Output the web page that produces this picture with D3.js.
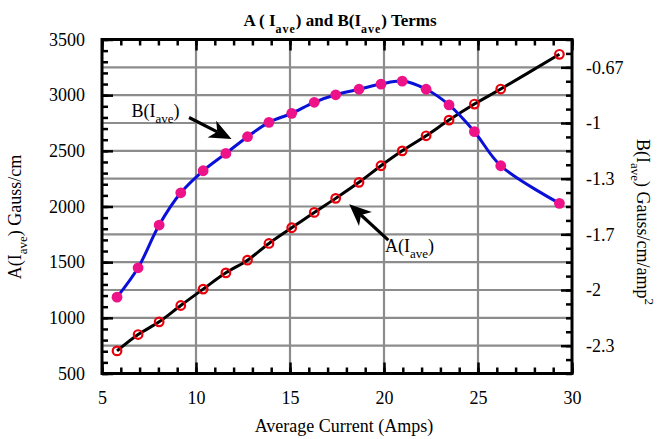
<!DOCTYPE html>
<html lang="en">
<head>
<meta charset="UTF-8">
<title>A and B Terms</title>
<script src="https://cdn.jsdelivr.net/npm/d3@7"></script>
<style>
    body { margin: 0; background: #fff; }
    text { font-family: "Liberation Serif", "Times New Roman", serif; fill: #000; }
</style>
</head>
<body>
<script type="text/javascript">
    // data
    var current = [5.80, 6.92, 8.04, 9.19, 10.38, 11.59, 12.74, 13.88, 15.09, 16.29,
                   17.43, 18.67, 19.84, 20.97, 22.24, 23.46, 24.81, 26.21, 29.33];
    var aTerm = [703, 850, 964, 1111, 1258, 1404, 1518, 1668, 1809, 1947,
                 2073, 2217, 2366, 2500, 2635, 2776, 2920, 3055, 3367];
    var bTerm = [-2.043, -1.867, -1.611, -1.418, -1.286, -1.182, -1.082, -0.996, -0.942, -0.876,
                 -0.831, -0.798, -0.767, -0.749, -0.798, -0.892, -1.052, -1.256, -1.481];

    var xTicks = [5, 10, 15, 20, 25, 30];
    var leftTicks = [500, 1000, 1500, 2000, 2500, 3000, 3500];
    var rightTicks = [-7 / 3, -2, -5 / 3, -4 / 3, -1, -2 / 3];
    var rightLabels = ['-2.3', '-2', '-1.7', '-1.3', '-1', '-0.67'];
    var xGrid = [10, 15, 20, 25];
    var yGrid = [750, 1000, 1250, 1500, 1750, 2000, 2250, 2500, 2750, 3000, 3250];

    var width = 670;
    var height = 439;
    // window.top is read-only, so plot edges get their own names
    var pLeft = 102, pRight = 572, pTop = 39.5, pBottom = 373.5;
    var font = '"Liberation Serif", "Times New Roman", serif';

    var svg = d3.select('body').append('svg')
            .attr('width', width)
            .attr('height', height);

    var x = d3.scaleLinear().domain([5, 30]).range([pLeft, pRight]);
    var yL = d3.scaleLinear().domain([500, 3500]).range([pBottom, pTop]);
    var yR = d3.scaleLinear().domain([-2.5, -0.5]).range([pBottom, pTop]);

    // grid
    svg.selectAll('.vgrid').data(xGrid).enter().append('line')
            .attr('x1', function (d) { return x(d); })
            .attr('x2', function (d) { return x(d); })
            .attr('y1', pTop).attr('y2', pBottom)
            .attr('stroke', '#8c8c8c').attr('stroke-width', 2.2);
    svg.selectAll('.hgrid').data(yGrid).enter().append('line')
            .attr('y1', function (d) { return yL(d); })
            .attr('y2', function (d) { return yL(d); })
            .attr('x1', pLeft).attr('x2', pRight)
            .attr('stroke', '#8c8c8c').attr('stroke-width', 2.2);

    function styleAxis(g) {
        g.select('.domain').remove();
        g.selectAll('.tick line').attr('stroke', '#000').attr('stroke-width', 2.5);
        g.selectAll('.tick text')
                .attr('font-family', font)
                .attr('font-size', 18)
                .attr('fill', '#000');
    }

    // minor ticks
    var minorX = d3.range(5, 31, 1);
    var minorL = d3.range(500, 3501, 100);
    var minorR = d3.range(0, 25).map(function (k) { return -2.5 + k / 12; });

    svg.append('g').attr('transform', 'translate(0,' + pBottom + ')')
            .call(d3.axisBottom(x).tickValues(minorX).tickSize(-6).tickFormat(''))
            .call(styleAxis);
    svg.append('g').attr('transform', 'translate(0,' + pTop + ')')
            .call(d3.axisTop(x).tickValues(minorX).tickSize(-6).tickFormat(''))
            .call(styleAxis);
    svg.append('g').attr('transform', 'translate(' + pLeft + ',0)')
            .call(d3.axisLeft(yL).tickValues(minorL).tickSize(-6).tickFormat(''))
            .call(styleAxis);
    svg.append('g').attr('transform', 'translate(' + pRight + ',0)')
            .call(d3.axisRight(yR).tickValues(minorR).tickSize(-6).tickFormat(''))
            .call(styleAxis);

    // major ticks + labels
    svg.append('g').attr('transform', 'translate(0,' + pBottom + ')')
            .call(d3.axisBottom(x).tickValues(xTicks).tickSize(-11).tickPadding(18).tickFormat(d3.format('d')))
            .call(styleAxis);
    svg.append('g').attr('transform', 'translate(0,' + pTop + ')')
            .call(d3.axisTop(x).tickValues(xTicks).tickSize(-11).tickFormat(''))
            .call(styleAxis);
    svg.append('g').attr('transform', 'translate(' + pLeft + ',0)')
            .call(d3.axisLeft(yL).tickValues(leftTicks).tickSize(-11).tickPadding(17).tickFormat(d3.format('d')))
            .call(styleAxis);
    svg.append('g').attr('transform', 'translate(' + pRight + ',0)')
            .call(d3.axisRight(yR).tickValues(rightTicks).tickSize(-11).tickPadding(14)
                    .tickFormat(function (d, i) { return rightLabels[i]; }))
            .call(styleAxis);

    // frame
    svg.append('rect')
            .attr('x', pLeft).attr('y', pTop)
            .attr('width', pRight - pLeft).attr('height', pBottom - pTop)
            .attr('fill', 'none').attr('stroke', '#000').attr('stroke-width', 3);

    var aData = current.map(function (c, i) { return {x: c, y: aTerm[i]}; });
    var bData = current.map(function (c, i) { return {x: c, y: bTerm[i]}; });

    var lineA = d3.line().curve(d3.curveCatmullRom)
            .x(function (d) { return x(d.x); })
            .y(function (d) { return yL(d.y); });
    var lineB = d3.line().curve(d3.curveCatmullRom)
            .x(function (d) { return x(d.x); })
            .y(function (d) { return yR(d.y); });

    svg.append('path').datum(aData).attr('d', lineA)
            .attr('fill', 'none').attr('stroke', '#000').attr('stroke-width', 3);
    svg.selectAll('.ma').data(aData).enter().append('circle')
            .attr('cx', function (d) { return x(d.x); })
            .attr('cy', function (d) { return yL(d.y); })
            .attr('r', 4.3)
            .attr('fill', 'none').attr('stroke', '#e8000b').attr('stroke-width', 2.2);

    svg.append('path').datum(bData).attr('d', lineB)
            .attr('fill', 'none').attr('stroke', '#0a10d8').attr('stroke-width', 3);
    svg.selectAll('.mb').data(bData).enter().append('circle')
            .attr('cx', function (d) { return x(d.x); })
            .attr('cy', function (d) { return yR(d.y); })
            .attr('r', 5.4)
            .attr('fill', '#ee1289');

    // annotations (data coordinates on the left axis)
    function arrow(x0, y0, x1, y1) {
        var px0 = x(x0), py0 = yL(y0), px1 = x(x1), py1 = yL(y1);
        var dx = px1 - px0, dy = py1 - py0, len = Math.sqrt(dx * dx + dy * dy);
        var ux = dx / len, uy = dy / len, nx = -uy, ny = ux;
        var hl = 22, hw = 9.5, notch = 16;
        svg.append('line')
                .attr('x1', px0).attr('y1', py0)
                .attr('x2', px1 - ux * notch).attr('y2', py1 - uy * notch)
                .attr('stroke', '#000').attr('stroke-width', 3.2);
        var pts = [
            [px1, py1],
            [px1 - ux * hl + nx * hw, py1 - uy * hl + ny * hw],
            [px1 - ux * notch, py1 - uy * notch],
            [px1 - ux * hl - nx * hw, py1 - uy * hl - ny * hw]
        ];
        svg.append('polygon').attr('points', pts.map(function (p) { return p.join(','); }).join(' '))
                .attr('fill', '#000');
    }

    function subLabel(g, pre, sub, post, subSize, shift) {
        g.append('tspan').text(pre);
        g.append('tspan').attr('dy', shift).attr('font-size', subSize).text(sub);
        g.append('tspan').attr('dy', -shift).text(post);
        return g;
    }

    arrow(9.63, 2799, 11.89, 2606);
    subLabel(svg.append('text').attr('x', x(6.57)).attr('y', yL(2806)).attr('font-size', 18),
            'B(I', 'ave', ')', 13, 6);

    arrow(20.23, 1698, 18.15, 2021);
    subLabel(svg.append('text').attr('x', x(20.05)).attr('y', yL(1587)).attr('font-size', 18),
            'A(I', 'ave', ')', 13, 6);

    // title
    var title = svg.append('text')
            .attr('x', 340).attr('y', 26)
            .attr('text-anchor', 'middle')
            .attr('font-size', 17).attr('font-weight', 'bold');
    title.append('tspan').text('A ( I');
    title.append('tspan').attr('dy', 7).attr('font-size', 12).attr('letter-spacing', 1).text('ave');
    title.append('tspan').attr('dy', -7).text(')  and  B(I');
    title.append('tspan').attr('dy', 7).attr('font-size', 12).attr('letter-spacing', 1).text('ave');
    title.append('tspan').attr('dy', -7).text(')  Terms');

    // axis titles
    svg.append('text')
            .attr('x', (pLeft + pRight) / 2 + 7).attr('y', 432)
            .attr('text-anchor', 'middle').attr('font-size', 18)
            .text('Average Current (Amps)');

    var yTitle = svg.append('text')
            .attr('transform', 'translate(21,217) rotate(-90)')
            .attr('text-anchor', 'middle').attr('font-size', 18);
    subLabel(yTitle, 'A(I', 'ave', ') Gauss/cm', 13, 6);

    var rTitle = svg.append('text')
            .attr('transform', 'translate(637,222) rotate(90)')
            .attr('text-anchor', 'middle').attr('font-size', 18);
    rTitle.append('tspan').text('B(I');
    rTitle.append('tspan').attr('dy', 6).attr('font-size', 13).text('ave');
    rTitle.append('tspan').attr('dy', -6).text(') Gauss/cm/amp');
    rTitle.append('tspan').attr('dy', -8).attr('font-size', 13).text('2');
</script>
</body>
</html>
